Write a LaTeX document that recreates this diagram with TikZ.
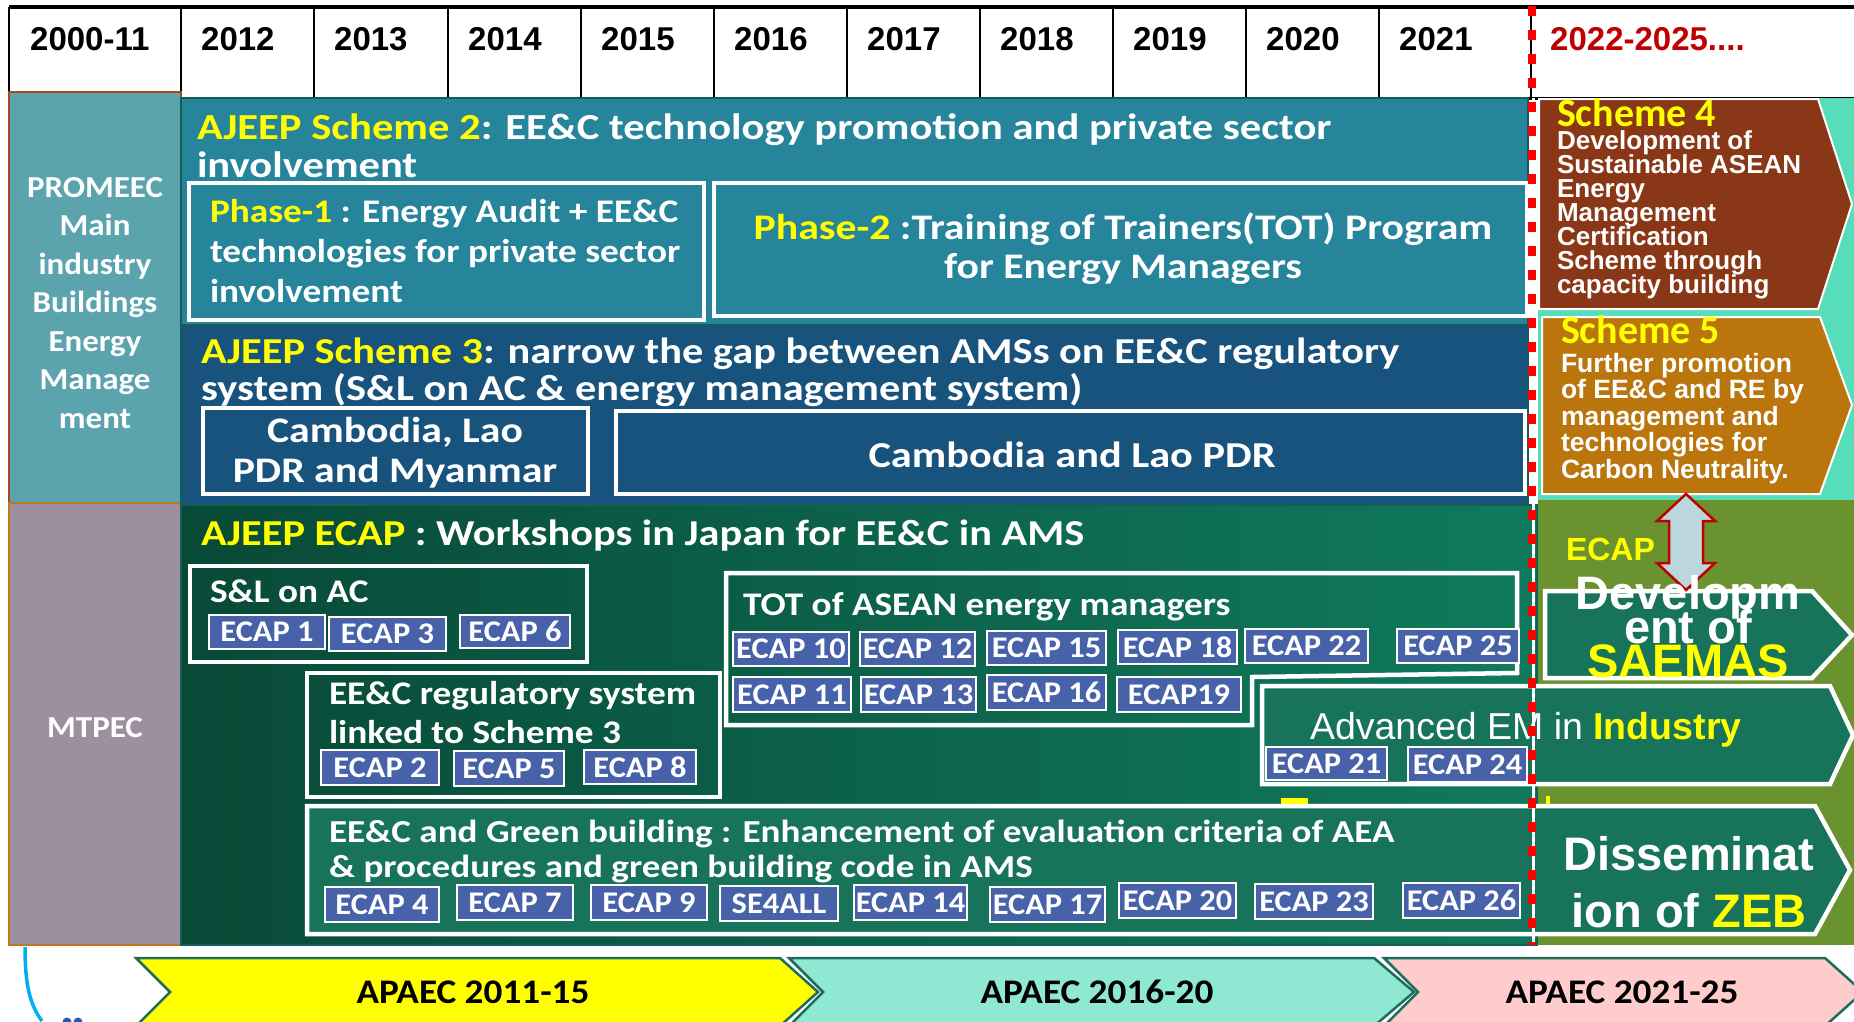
\documentclass[tikz,border=0pt]{standalone}
\usepackage{fontspec}
\setmainfont{Carlito}
\newfontfamily\arialf{Liberation Sans}
% widened cuts of the text face
\newfontfamily\calS[FakeStretch=1.16]{Carlito}
\newfontfamily\calM[FakeStretch=1.13]{Carlito}
\newfontfamily\calC[FakeStretch=1.08]{Carlito}
% keep the set line spacing even when lines come close
\lineskiplimit=-100pt
\lineskip=0pt

\definecolor{s2blue}{RGB}{38,133,155}
\definecolor{s3blue}{RGB}{24,83,125}
\definecolor{promeec}{RGB}{91,163,173}
\definecolor{mtpec}{RGB}{158,143,160}
\definecolor{brownline}{RGB}{165,75,30}
\definecolor{orangeline}{RGB}{190,120,30}
\definecolor{greenL}{RGB}{8,74,55}
\definecolor{greenR}{RGB}{16,122,92}
\definecolor{greenbox}{RGB}{23,115,89}
\definecolor{panelline}{RGB}{20,95,85}
\definecolor{chipblue}{RGB}{72,98,170}
\definecolor{ylw}{RGB}{255,255,0}
\definecolor{yearred}{RGB}{192,0,0}
\definecolor{dashred}{RGB}{255,0,0}
\definecolor{schfour}{RGB}{137,55,22}
\definecolor{schfive}{RGB}{186,118,12}
\definecolor{mint}{RGB}{88,221,186}
\definecolor{olive}{RGB}{106,147,48}
\definecolor{arrowfill}{RGB}{188,215,220}
\definecolor{arrowline}{RGB}{192,0,0}
\definecolor{apaecline}{RGB}{30,108,92}
\definecolor{apaecmint}{RGB}{143,232,210}
\definecolor{apaecpink}{RGB}{255,204,204}
\definecolor{curvecyan}{RGB}{0,176,240}
\definecolor{dotblue}{RGB}{40,90,180}

\newcommand\fs[2]{\fontsize{#1}{#2}\selectfont}

% ECAP chip: name, x1, y1, x2, y2, label
\newcommand\chip[6]{%
  \pgfmathsetmacro\chipcx{(#2+#4)/2}%
  \pgfmathsetmacro\chipcy{(#3+#5)/2}%
  \pgfmathsetmacro\chipw{#4-#2}%
  \pgfmathsetmacro\chiph{#5-#3}%
  \node[chip, minimum width=\chipw pt, minimum height=\chiph pt] (#1) at (\chipcx,\chipcy) {#6};}

\begin{document}
\begin{tikzpicture}[x=1pt,y=-1pt,
  txt/.style={inner sep=0pt, outer sep=0pt, text=white, font=\bfseries},
  year/.style={inner sep=0pt, anchor=base west, font=\arialf\bfseries\fs{33}{33}},
  wbox/.style={draw=white, line width=4.5pt},
  chip/.style={fill=chipblue, draw=white, line width=2pt, inner sep=0pt,
    text=white, font=\calC\bfseries\fs{30}{30}},
  apaec/.style={draw=apaecline, line width=2.5pt},
  apaectxt/.style={inner sep=0pt, anchor=base, font=\calC\bfseries\fs{34.5}{34.5}},
  reddash/.style={draw=dashred, line width=8pt, dash pattern=on 10pt off 14pt}]

\useasboundingbox (0,0) rectangle (1854,1021);
\begin{scope}
\clip (0,0) rectangle (1854,1021);

% ---------- header row ----------
\fill[white] (9,6) rectangle (1854,98);
\draw[line width=3pt] (181,98) -- (1854,98);
\draw[line width=4pt] (9,7) -- (1854,7);
\draw[line width=2.5pt] (9,7) -- (9,92);
\foreach \xd in {181,314,448,581,714,847,980,1113,1246,1379,1531}
  \draw[line width=2.5pt] (\xd,7) -- (\xd,98);
\node[year] (y0)  at (30,50)   {2000-11};
\node[year] (y12) at (201,50)  {2012};
\node[year] (y13) at (334,50)  {2013};
\node[year] (y14) at (468,50)  {2014};
\node[year] (y15) at (601,50)  {2015};
\node[year] (y16) at (734,50)  {2016};
\node[year] (y17) at (867,50)  {2017};
\node[year] (y18) at (1000,50) {2018};
\node[year] (y19) at (1133,50) {2019};
\node[year] (y20) at (1266,50) {2020};
\node[year] (y21) at (1399,50) {2021};
\node[year, text=yearred] (y22) at (1550,50) {2022-2025....};

% ---------- left column ----------
\draw[fill=promeec, draw=brownline, line width=2pt] (9,92) rectangle (181,503);
\draw[fill=mtpec, draw=orangeline, line width=2.5pt] (9,503) rectangle (181,945);
% multi-line nodes are anchored at the baseline of their last line
\node[txt, anchor=base, align=center, font=\calC\bfseries\fs{30.5}{38.5}] (promeec) at (95,428)
  {PROMEEC\\Main\\industry\\Buildings\\Energy\\Manage\\ment};
\node[txt, anchor=base, font=\calC\bfseries\fs{30.5}{30.5}] (mtpec) at (95,737) {MTPEC};

% ---------- main panels ----------
\draw[fill=s2blue, draw=panelline, line width=1.5pt] (181,98) rectangle (1528,325);
\draw[fill=s3blue, draw=panelline, line width=1.5pt] (181,325) rectangle (1528,505);
\draw[left color=greenL, right color=greenR, draw=panelline, line width=1.5pt] (181,505) rectangle (1537,945);

% Scheme 2
\node[txt, anchor=base west, align=left, font=\calS\bfseries\fs{36.7}{38}] (s2title) at (197,177)
  {{\color{ylw}AJEEP Scheme 2}: EE\&C technology promotion and private sector\\involvement};
\draw[wbox] (189,183) rectangle (704,320);
\node[txt, anchor=base west, align=left, font=\calM\bfseries\fs{33}{40}] (phase1) at (210,302)
  {{\color{ylw}Phase-1} : Energy Audit + EE\&C\\technologies for private sector\\involvement};
\draw[wbox] (714,183) rectangle (1527,316);
\node[txt, anchor=base, align=center, font=\calS\bfseries\fs{36}{39}] (phase2) at (1123,278)
  {{\color{ylw}Phase-2} :Training of Trainers(TOT) Program\\for Energy Managers};

% Scheme 3
\node[txt, anchor=base west, align=left, font=\calS\bfseries\fs{36.5}{37}] (s3title) at (201,400)
  {{\color{ylw}AJEEP Scheme 3}: narrow the gap between AMSs on EE\&C regulatory\\system (S\&L on AC \& energy management system)};
\draw[wbox] (203,408) rectangle (588,494);
\node[txt, anchor=base, align=center, font=\calS\bfseries\fs{36}{40}] (clm) at (395,482)
  {Cambodia, Lao\\PDR and Myanmar};
\draw[wbox] (616,411) rectangle (1525,494);
\node[txt, anchor=base, font=\calS\bfseries\fs{36.5}{36.5}] (cl) at (1072,467) {Cambodia and Lao PDR};

% ECAP panel
\node[txt, anchor=base west, font=\calS\bfseries\fs{36.5}{36.5}] (ecaptitle) at (201,545)
  {{\color{ylw}AJEEP ECAP} : Workshops in Japan for EE\&C in AMS};

% S&L on AC
\draw[wbox] (190,566) rectangle (587,662);
\node[txt, anchor=base west, font=\calM\bfseries\fs{33}{33}] (sl) at (210,602) {S\&L on AC};
\chip{e1}{209}{615}{325}{649}{ECAP 1}
\chip{e3}{329}{617}{446}{651}{ECAP 3}
\chip{e6}{460}{615}{570}{648}{ECAP 6}

% EE&C regulatory system
\draw[wbox] (307,673) rectangle (720,797);
\node[txt, anchor=base west, align=left, font=\calM\bfseries\fs{33}{39}] (reg) at (329,743)
  {EE\&C regulatory system\\linked to Scheme 3};
\chip{e2}{321}{750}{439}{785}{ECAP 2}
\chip{e5}{454}{751}{564}{786}{ECAP 5}
\chip{e8}{584}{750}{696}{784}{ECAP 8}

% TOT of ASEAN energy managers
\draw[wbox] (726,573) -- (1517,573) -- (1517,673) -- (1252,677) -- (1252,725) -- (726,725) -- cycle;
\node[txt, anchor=base west, font=\calM\bfseries\fs{33}{33}] (tot) at (743,615) {TOT of ASEAN energy managers};
\chip{e10}{733}{632}{849}{666}{ECAP 10}
\chip{e12}{860}{632}{975}{666}{ECAP 12}
\chip{e15}{987}{631}{1106}{665}{ECAP 15}
\chip{e18}{1118}{630}{1237}{664}{ECAP 18}
\chip{e22}{1245}{629}{1368}{663}{ECAP 22}
\chip{e25}{1397}{629}{1519}{663}{ECAP 25}
\chip{e11}{733}{677}{851}{712}{ECAP 11}
\chip{e13}{861}{677}{976}{712}{ECAP 13}
\chip{e16}{987}{675}{1106}{710}{ECAP 16}
\chip{e19}{1117}{677}{1241}{712}{ECAP19}

% ---------- right column ----------
\fill[mint] (1538,98) rectangle (1854,500);
\fill[olive] (1538,500) rectangle (1854,945);

% Scheme 4
\draw[fill=schfour, draw=white, line width=2pt]
  (1539,99) -- (1818,99) -- (1852,204) -- (1818,309) -- (1539,309) -- cycle;
\node[txt, anchor=base west, text=ylw, font=\bfseries\fs{40}{40}] (s4) at (1557,126) {Scheme 4};
\node[txt, anchor=base west, align=left, font=\arialf\bfseries\fs{26}{24}] (s4body) at (1557,293)
  {Development of\\Sustainable ASEAN\\Energy\\Management\\Certification\\Scheme through\\capacity building};

% Scheme 5
\draw[fill=schfive, draw=white, line width=2pt]
  (1542,317) -- (1820,317) -- (1852,405) -- (1820,494) -- (1542,494) -- cycle;
\node[txt, anchor=base west, text=ylw, font=\bfseries\fs{40}{40}] (s5) at (1561,343) {Scheme 5};
\node[txt, anchor=base west, align=left, font=\arialf\bfseries\fs{26.5}{26.5}] (s5body) at (1561,478)
  {Further promotion\\of EE\&C and RE by\\management and\\technologies for\\Carbon Neutrality.};

% small remnants of yellow lettering
\fill[ylw] (1281,798) rectangle (1308,806);
\fill[ylw] (1546,796) rectangle (1550,806);

% Advanced EM in Industry
\draw[fill=greenbox, draw=white, line width=4.5pt]
  (1262,686) -- (1830,686) -- (1853,735) -- (1830,784) -- (1262,784) -- cycle;
\node[txt, anchor=base west, font=\arialf\mdseries\fs{37.5}{37.5}] (adv) at (1310,739)
  {Advanced EM in {\bfseries\color{ylw}Industry}};
\chip{e21}{1266}{747}{1387}{780}{ECAP 21}
\chip{e24}{1408}{747}{1527}{782}{ECAP 24}

% Development of SAEMAS
\draw[fill=greenbox, draw=white, line width=4.5pt]
  (1545,591) -- (1812,591) -- (1852,635) -- (1812,678) -- (1545,678) -- cycle;
\draw[fill=arrowfill, draw=arrowline, line width=2.5pt]
  (1686,494) -- (1715,521) -- (1703,521) -- (1703,563) -- (1715,563) -- (1686,590)
  -- (1657,563) -- (1669,563) -- (1669,521) -- (1657,521) -- cycle;
\node[txt, anchor=base west, text=ylw, font=\arialf\bfseries\fs{32}{32}] (ecapr) at (1566,560) {ECAP};
\node[txt, anchor=base, align=center, font=\arialf\bfseries\fs{47}{34}] (saemas) at (1688,677)
  {Developm\\ent of\\{\color{ylw}SAEMAS}};

% EE&C and Green building / Dissemination of ZEB
\draw[fill=greenbox, draw=white, line width=4.5pt]
  (307,806) -- (1815,806) -- (1850,870) -- (1815,934) -- (307,934) -- cycle;
\node[txt, anchor=base west, align=left, font=\calS\bfseries\fs{32}{35}] (green) at (329,877)
  {EE\&C and Green building : Enhancement of evaluation criteria of AEA\\\& procedures and green building code in AMS};
\chip{e4}{325}{887}{439}{922}{ECAP 4}
\chip{e7}{457}{885}{573}{920}{ECAP 7}
\chip{e9}{591}{885}{707}{920}{ECAP 9}
\chip{se}{720}{886}{838}{921}{SE4ALL}
\chip{e14}{854}{885}{967}{920}{ECAP 14}
\chip{e17}{990}{887}{1105}{922}{ECAP 17}
\chip{e20}{1119}{883}{1236}{918}{ECAP 20}
\chip{e23}{1255}{884}{1373}{919}{ECAP 23}
\chip{e26}{1403}{883}{1520}{918}{ECAP 26}
\node[txt, anchor=base, align=center, font=\arialf\bfseries\fs{47}{57}] (zeb) at (1689,927)
  {Disseminat\\ion of {\color{ylw}ZEB}};

% ---------- 2021/2022 boundary ----------
\draw[white, line width=3pt] (1533,98) -- (1533,945);
\draw[reddash] (1532,6) -- (1532,945);

% ---------- APAEC periods ----------
\draw[apaec, fill=ylw] (136,958) -- (780,958) -- (818,992) -- (780,1026) -- (136,1026) -- (170,992) -- cycle;
\draw[apaec, fill=apaecmint] (789,958) -- (1374,958) -- (1414,992) -- (1374,1026) -- (789,1026) -- (823,992) -- cycle;
\draw[apaec, fill=apaecpink] (1384,958) -- (1825,958) -- (1863,992) -- (1825,1026) -- (1384,1026) -- (1418,992) -- cycle;
\node[apaectxt] (ap1) at (473,1003) {APAEC 2011-15};
\node[apaectxt] (ap2) at (1097,1003) {APAEC 2016-20};
\node[apaectxt] (ap3) at (1622,1003) {APAEC 2021-25};

% curved line at the lower left
\draw[curvecyan, line width=3.5pt] (25,947) .. controls (25,985) and (30,1005) .. (42,1021);
\fill[dotblue] (67,1022) circle (4.5) (78,1022) circle (4.5);
\end{scope}
\end{tikzpicture}
\end{document}
